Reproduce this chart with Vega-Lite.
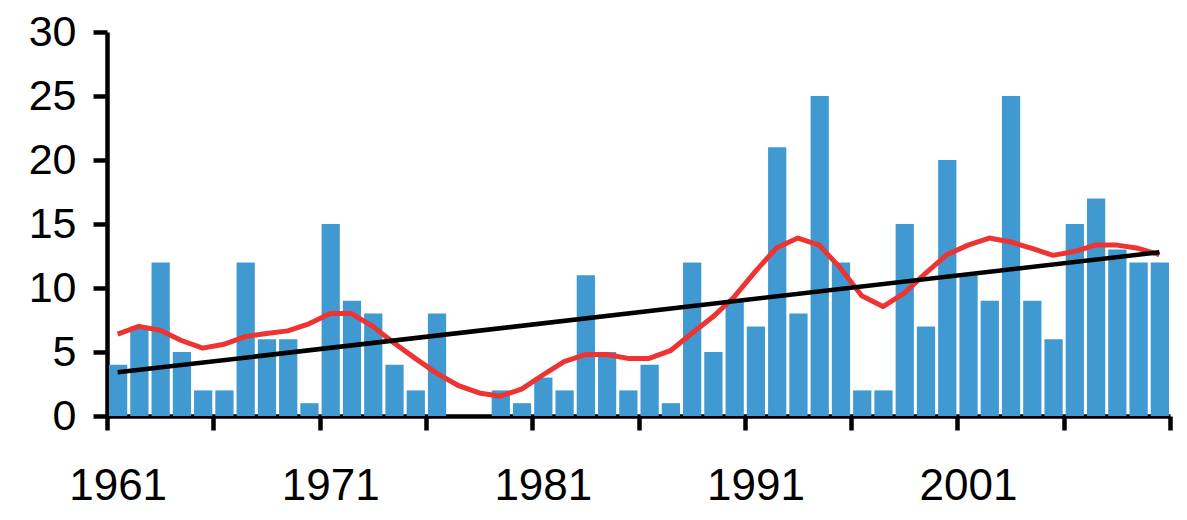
{
  "$schema": "https://vega.github.io/schema/vega-lite/v6.json",
  "width": 1063,
  "height": 384,
  "autosize": {"type": "none"},
  "padding": {"left": 107, "top": 32, "right": 17, "bottom": 104},
  "background": "white",
  "config": {
    "view": {"stroke": null},
    "axis": {
      "labelFont": "Liberation Sans",
      "labelColor": "black",
      "domainColor": "black",
      "tickColor": "black",
      "domainWidth": 4.5,
      "tickWidth": 4.5,
      "tickSize": 14,
      "grid": false,
      "title": null,
      "labelFlush": false,
      "labelOverlap": false,
      "labelBound": false
    }
  },
  "datasets": {
    "main": [
      {"year": 1961, "count": 4, "smooth": 6.4},
      {"year": 1962, "count": 7, "smooth": 7.0},
      {"year": 1963, "count": 12, "smooth": 6.7},
      {"year": 1964, "count": 5, "smooth": 5.9},
      {"year": 1965, "count": 2, "smooth": 5.3},
      {"year": 1966, "count": 2, "smooth": 5.6},
      {"year": 1967, "count": 12, "smooth": 6.2},
      {"year": 1968, "count": 6, "smooth": 6.45},
      {"year": 1969, "count": 6, "smooth": 6.65},
      {"year": 1970, "count": 1, "smooth": 7.2},
      {"year": 1971, "count": 15, "smooth": 8.0},
      {"year": 1972, "count": 9, "smooth": 8.0},
      {"year": 1973, "count": 8, "smooth": 7.0},
      {"year": 1974, "count": 4, "smooth": 5.7},
      {"year": 1975, "count": 2, "smooth": 4.5},
      {"year": 1976, "count": 8, "smooth": 3.35},
      {"year": 1977, "count": 0, "smooth": 2.4},
      {"year": 1978, "count": 0, "smooth": 1.8},
      {"year": 1979, "count": 2, "smooth": 1.55},
      {"year": 1980, "count": 1, "smooth": 2.1},
      {"year": 1981, "count": 3, "smooth": 3.2},
      {"year": 1982, "count": 2, "smooth": 4.25},
      {"year": 1983, "count": 11, "smooth": 4.8},
      {"year": 1984, "count": 5, "smooth": 4.8},
      {"year": 1985, "count": 2, "smooth": 4.5},
      {"year": 1986, "count": 4, "smooth": 4.5},
      {"year": 1987, "count": 1, "smooth": 5.1},
      {"year": 1988, "count": 12, "smooth": 6.45},
      {"year": 1989, "count": 5, "smooth": 7.75},
      {"year": 1990, "count": 9, "smooth": 9.3},
      {"year": 1991, "count": 7, "smooth": 11.3},
      {"year": 1992, "count": 21, "smooth": 13.15},
      {"year": 1993, "count": 8, "smooth": 13.9},
      {"year": 1994, "count": 25, "smooth": 13.35},
      {"year": 1995, "count": 12, "smooth": 11.55},
      {"year": 1996, "count": 2, "smooth": 9.4},
      {"year": 1997, "count": 2, "smooth": 8.55},
      {"year": 1998, "count": 15, "smooth": 9.6},
      {"year": 1999, "count": 7, "smooth": 11.15},
      {"year": 2000, "count": 20, "smooth": 12.6},
      {"year": 2001, "count": 11, "smooth": 13.35},
      {"year": 2002, "count": 9, "smooth": 13.9},
      {"year": 2003, "count": 25, "smooth": 13.6},
      {"year": 2004, "count": 9, "smooth": 13.1},
      {"year": 2005, "count": 6, "smooth": 12.55},
      {"year": 2006, "count": 15, "smooth": 12.85},
      {"year": 2007, "count": 17, "smooth": 13.35},
      {"year": 2008, "count": 13, "smooth": 13.35},
      {"year": 2009, "count": 12, "smooth": 13.1},
      {"year": 2010, "count": 12, "smooth": 12.6}
    ],
    "trend": [
      {"year": 1961, "value": 3.41},
      {"year": 2010, "value": 12.79}
    ]
  },
  "layer": [
    {
      "data": {"name": "main"},
      "mark": {"type": "bar", "color": "#4199D2", "binSpacing": 3},
      "encoding": {
        "x": {
          "field": "year",
          "type": "quantitative",
          "bin": {"step": 1, "extent": [1961, 2011]},
          "scale": {"domain": [1961, 2011], "nice": false, "zero": false},
          "axis": {
            "values": [1961, 1966, 1971, 1976, 1981, 1986, 1991, 1996, 2001, 2006, 2011],
            "labelExpr": "(datum.value % 10 == 1 && datum.value < 2011) ? ('' + datum.value) : ''",
            "labelOffset": 10.63,
            "labelFontSize": 44,
            "labelPadding": 34
          }
        },
        "y": {
          "field": "count",
          "type": "quantitative",
          "scale": {"domain": [0, 30], "nice": false},
          "axis": {
            "values": [0, 5, 10, 15, 20, 25, 30],
            "labelFontSize": 43,
            "labelPadding": 17
          }
        }
      }
    },
    {
      "data": {"name": "main"},
      "mark": {"type": "line", "color": "#EE3333", "strokeWidth": 5, "strokeJoin": "round"},
      "encoding": {
        "x": {"field": "year", "type": "quantitative", "bin": {"step": 1, "extent": [1961, 2011]}},
        "y": {"field": "smooth", "type": "quantitative"}
      }
    },
    {
      "data": {"name": "trend"},
      "mark": {"type": "line", "color": "black", "strokeWidth": 4.5},
      "encoding": {
        "x": {"field": "year", "type": "quantitative", "bin": {"step": 1, "extent": [1961, 2011]}},
        "y": {"field": "value", "type": "quantitative"}
      }
    }
  ]
}
